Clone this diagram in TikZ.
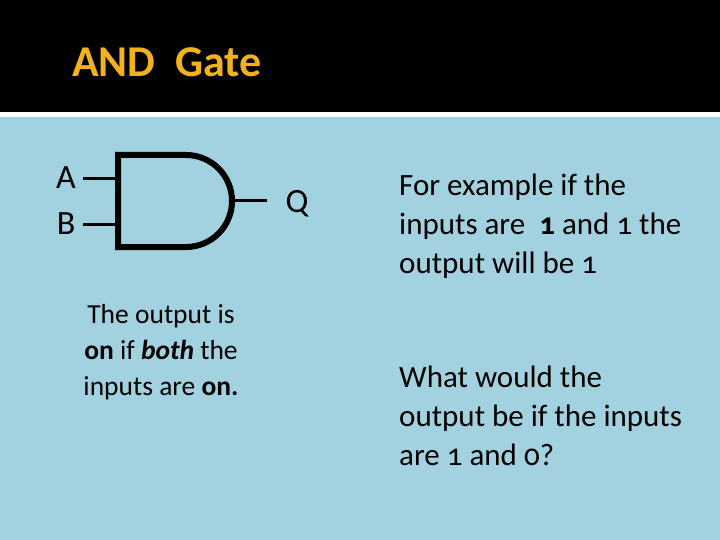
\documentclass[tikz,border=0pt]{standalone}
\usepackage{fontspec}
\setmainfont{Carlito}[Numbers=OldStyle]
\definecolor{bg}{HTML}{A2D2E0}
\definecolor{ttl}{HTML}{F2B21B}
\begin{document}
\begin{tikzpicture}[x=1pt,y=-1pt,
  wire/.style={line width=3pt},
  body/.style={line width=6pt,line join=miter},
  rtext/.style={anchor=north west,align=left,font=\fontsize{31}{39}\selectfont,inner sep=0pt},
  lbl/.style={font=\fontsize{34}{36}\selectfont,inner sep=0pt}]
\useasboundingbox (0,0) rectangle (720,540);
\fill[bg] (0,0) rectangle (720,540);
\fill[black] (0,0) rectangle (720,112);
\fill[white] (0,112) rectangle (720,117);
\node[anchor=west,text=ttl,font=\fontsize{44}{48}\selectfont\bfseries,inner sep=0pt] (title) at (72,62) {AND\ \ Gate};
% gate
\draw[body] (118,155) -- (186,155) arc[start angle=-90,end angle=90,radius=46] -- (118,247) -- cycle;
\coordinate (ain) at (118,179);
\coordinate (bin) at (118,225);
\coordinate (qout) at (232,201);
\coordinate (qend) at (267,201);
\node[lbl] (A) at (66,178) {A};
\node[lbl] (B) at (66,224) {B};
\node[lbl] (Q) at (297,204) {Q};
\coordinate (aw) at (83,179);
\coordinate (bw) at (83,225);
\draw[wire] (aw) -- (ain);
\draw[wire] (bw) -- (bin);
\draw[wire] (qout) -- (qend);
\node[align=center,font=\fontsize{27.5}{36}\selectfont,inner sep=0pt] (desc) at (161,352)
 {The output is\\\textbf{on} if \textbf{\textit{both}} the\\inputs are \textbf{on.}};
\node[rtext] (ex) at (399,174) {For example if the\\inputs are \ \textbf{1} and 1 the\\output will be 1};
\node[rtext] (q) at (399,366) {What would the\\output be if the inputs\\are 1 and 0?};
\end{tikzpicture}
\end{document}
